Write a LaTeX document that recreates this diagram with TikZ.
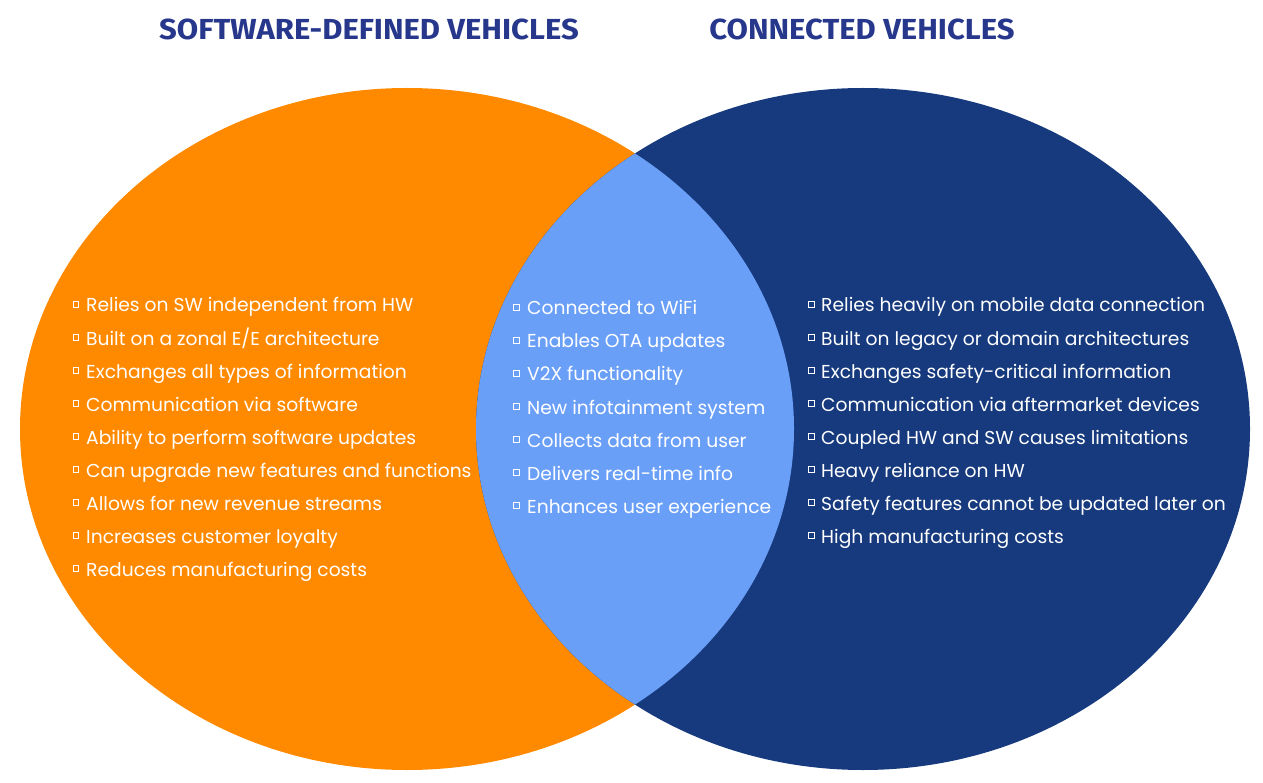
\documentclass[tikz,border=0pt]{standalone}
\usepackage{fontspec}
\setmainfont{Poppins}
\newfontfamily\titlefont{Fira Sans}[UprightFont=* Bold, FakeStretch=1.07]
\definecolor{sdvorange}{HTML}{FF8A00}
\definecolor{cvblue}{HTML}{163A7D}
\definecolor{midblue}{HTML}{6A9FF7}
\definecolor{titleblue}{HTML}{26378C}
\tikzset{
  item/.style={anchor=base west, text=white, font=\fontsize{18.7}{22}\selectfont, inner sep=0pt},
  bul/.style={draw=white, line width=1pt, minimum size=5.5pt, inner sep=0pt},
  ttl/.style={text=titleblue, font=\titlefont\fontsize{29}{32}\selectfont, inner sep=0pt}
}
\begin{document}
\begin{tikzpicture}[x=1pt,y=-1pt]
\useasboundingbox (0,0) rectangle (1263,783);
\fill[sdvorange] (407,429) ellipse [x radius=387, y radius=341];
\fill[cvblue] (863,429) ellipse [x radius=387, y radius=341];
\begin{scope}
\clip (407,429) ellipse [x radius=387, y radius=341];
\fill[midblue] (863,429) ellipse [x radius=387, y radius=341];
\end{scope}
\node[ttl] (t1) at (369,29) {SOFTWARE-DEFINED VEHICLES};
\node[ttl] (t2) at (862,29) {CONNECTED VEHICLES};
% left list
\foreach \t [count=\i] in {Relies on SW independent from HW,Built on a zonal E/E architecture,Exchanges all types of information,Communication via software,Ability to perform software updates,Can upgrade new features and functions,Allows for new revenue streams,Increases customer loyalty,Reduces manufacturing costs}{
  \node[bul] (lb\i) at (76,{304.5+33*(\i-1)}) {};
  \node[item] (l\i) at (86,{312+33*(\i-1)}) {\t};
}
% middle list
\foreach \t [count=\i] in {Connected to WiFi,Enables OTA updates,V2X functionality,New infotainment system,Collects data from user,Delivers real-time info,Enhances user experience}{
  \node[bul] (mb\i) at (516.5,{307.5+33*(\i-1)}) {};
  \node[item] (m\i) at (527,{315+33*(\i-1)}) {\t};
}
% right list
\foreach \t [count=\i] in {Relies heavily on mobile data connection,Built on legacy or domain architectures,Exchanges safety-critical information,Communication via aftermarket devices,Coupled HW and SW causes limitations,Heavy reliance on HW,Safety features cannot be updated later on,High manufacturing costs}{
  \node[bul] (rb\i) at (811.5,{304.5+33*(\i-1)}) {};
  \node[item] (r\i) at (821,{312+33*(\i-1)}) {\t};
}
\end{tikzpicture}
\end{document}
